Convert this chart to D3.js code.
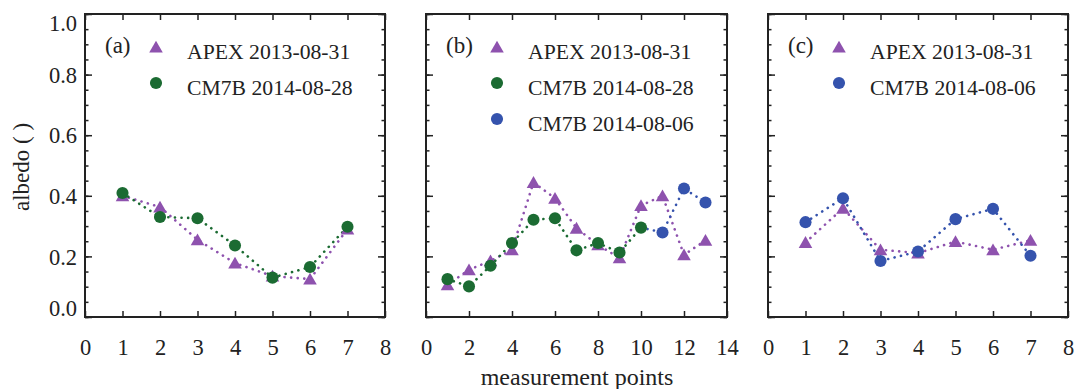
<!DOCTYPE html>
<html>
<head>
<meta charset="utf-8">
<script src="https://cdn.jsdelivr.net/npm/d3@7"></script>
<style>
  body { margin: 0; background: #fff; }
  text { font-family: "Liberation Serif", "Times New Roman", serif; fill: #222; }
  .axis path { display: none; }
  .axis line { stroke: #222; stroke-width: 1.5; }
</style>
</head>
<body>
<div class="chart"></div>
<script>
// panel (a)
var aPoints = [1, 2, 3, 4, 5, 6, 7];
var aApex = [0.40, 0.363, 0.255, 0.178, 0.135, 0.125, 0.29];
var aCm7b0828 = [0.409, 0.33, 0.326, 0.236, 0.13, 0.165, 0.298];

// panel (b)
var bPoints = [1, 2, 3, 4, 5, 6, 7, 8, 9, 10, 11, 12, 13];
var bApex = [0.106, 0.156, 0.185, 0.222, 0.444, 0.392, 0.293, 0.238, 0.195, 0.368, 0.40, 0.205, 0.253];
var bCm7b0828Points = [1, 2, 3, 4, 5, 6, 7, 8, 9, 10];
var bCm7b0828 = [0.125, 0.101, 0.169, 0.244, 0.321, 0.326, 0.22, 0.244, 0.213, 0.295];
var bCm7b0806Points = [11, 12, 13];
var bCm7b0806 = [0.279, 0.424, 0.378];

// panel (c)
var cPoints = [1, 2, 3, 4, 5, 6, 7];
var cApex = [0.246, 0.359, 0.222, 0.211, 0.249, 0.222, 0.253];
var cCm7b0806 = [0.313, 0.392, 0.185, 0.216, 0.323, 0.357, 0.202];

var yTicks = [0, 0.2, 0.4, 0.6, 0.8, 1.0];
var yMinor = d3.range(0, 1.0001, 0.05);
var aXTicks = [0, 1, 2, 3, 4, 5, 6, 7, 8];
var bXTicks = [0, 2, 4, 6, 8, 10, 12, 14];
var cXTicks = [0, 1, 2, 3, 4, 5, 6, 7, 8];

var purple = '#8e52ae', green = '#1b6b32', blue = '#3553ad';
var apexLabel = 'APEX 2013-08-31';
var label0828 = 'CM7B 2014-08-28';
var label0806 = 'CM7B 2014-08-06';

var zip = (xs, ys) => xs.map((x, i) => ({ x: x, y: ys[i] }));

var panels = [
  {
    tag: '(a)', left: 85, right: 385, xmax: 8, xticks: aXTicks, ylabels: true,
    series: [
      { name: apexLabel, color: purple, shape: 'tri', pts: zip(aPoints, aApex) },
      { name: label0828, color: green, shape: 'dot', pts: zip(aPoints, aCm7b0828) }
    ]
  },
  {
    tag: '(b)', left: 426, right: 727, xmax: 14, xticks: bXTicks, ylabels: false,
    series: [
      { name: apexLabel, color: purple, shape: 'tri', pts: zip(bPoints, bApex) },
      { name: label0828, color: green, shape: 'dot', pts: zip(bCm7b0828Points, bCm7b0828) },
      // the 08-06 dotted line picks up from the last 08-28 point
      { name: label0806, color: blue, shape: 'dot', pts: zip(bCm7b0806Points, bCm7b0806),
        lead: { x: bCm7b0828Points[bCm7b0828Points.length - 1], y: bCm7b0828[bCm7b0828.length - 1] } }
    ]
  },
  {
    tag: '(c)', left: 768, right: 1068, xmax: 8, xticks: cXTicks, ylabels: false,
    series: [
      { name: apexLabel, color: purple, shape: 'tri', pts: zip(cPoints, cApex) },
      { name: label0806, color: blue, shape: 'dot', pts: zip(cPoints, cCm7b0806) }
    ]
  }
];

var plotTop = 14, plotBottom = 317;
var svg = d3.select('.chart').append('svg')
  .attr('width', 1076)
  .attr('height', 389);

var yScale = d3.scaleLinear().domain([0, 1]).range([plotBottom, plotTop]);
var tri = d3.symbol().type(d3.symbolTriangle).size(80);
var dot = d3.symbol().type(d3.symbolCircle).size(115);

panels.forEach(p => {
  var xScale = d3.scaleLinear().domain([0, p.xmax]).range([p.left, p.right]);
  var g = svg.append('g');

  // bottom axis with labels, top mirrored ticks
  g.append('g').attr('class', 'axis')
    .attr('transform', `translate(0, ${plotBottom})`)
    .call(d3.axisBottom(xScale).tickValues(p.xticks).tickSizeInner(-6).tickSizeOuter(0).tickPadding(22))
    .selectAll('text').style('font-size', '22.5px').attr('fill', '#222');
  g.append('g').attr('class', 'axis')
    .attr('transform', `translate(0, ${plotTop})`)
    .call(d3.axisTop(xScale).tickValues(p.xticks).tickSizeInner(-6).tickSizeOuter(0).tickFormat(''));

  // left and right y axes, major and minor ticks
  var yl = g.append('g').attr('class', 'axis')
    .attr('transform', `translate(${p.left}, 0)`)
    .call(d3.axisLeft(yScale).tickValues(yTicks).tickSizeInner(-7).tickSizeOuter(0).tickPadding(8)
      .tickFormat(p.ylabels ? d3.format('.1f') : ''));
  yl.selectAll('text').style('font-size', '22.5px').attr('fill', '#222')
    .attr('dy', (d) => d === 0 ? '-0.05em' : d === 1 ? '0.72em' : '0.34em');
  g.append('g').attr('class', 'axis')
    .attr('transform', `translate(${p.left}, 0)`)
    .call(d3.axisLeft(yScale).tickValues(yMinor).tickSizeInner(-3.5).tickSizeOuter(0).tickFormat(''));
  g.append('g').attr('class', 'axis')
    .attr('transform', `translate(${p.right}, 0)`)
    .call(d3.axisRight(yScale).tickValues(yTicks).tickSizeInner(-7).tickSizeOuter(0).tickFormat(''));
  g.append('g').attr('class', 'axis')
    .attr('transform', `translate(${p.right}, 0)`)
    .call(d3.axisRight(yScale).tickValues(yMinor).tickSizeInner(-3.5).tickSizeOuter(0).tickFormat(''));

  // frame
  g.append('rect')
    .attr('x', p.left).attr('y', plotTop)
    .attr('width', p.right - p.left).attr('height', plotBottom - plotTop)
    .style('fill', 'none').style('stroke', '#222').style('stroke-width', 2);

  var line = d3.line().x(d => xScale(d.x)).y(d => yScale(d.y));

  p.series.forEach(s => {
    var linePts = s.lead ? [s.lead].concat(s.pts) : s.pts;
    g.append('path')
      .attr('d', line(linePts))
      .style('fill', 'none')
      .style('stroke', s.color)
      .style('stroke-width', 2.6)
      .style('stroke-linecap', 'round')
      .style('stroke-dasharray', '0.1 6.5');
  });

  p.series.forEach(s => {
    g.selectAll(null)
      .data(s.pts)
      .enter()
      .append('path')
      .attr('d', s.shape === 'tri' ? tri : dot)
      .attr('transform', d => `translate(${xScale(d.x)}, ${yScale(d.y) + (s.shape === 'tri' ? 1.5 : 0)})`)
      .style('fill', s.color);
  });

  // legend
  g.append('text')
    .attr('x', p.left + 20).attr('y', 53)
    .style('font-size', '23px')
    .text(p.tag);
  p.series.forEach((s, i) => {
    var ly = 47 + i * 36;
    g.append('path')
      .attr('d', s.shape === 'tri' ? tri : dot)
      .attr('transform', `translate(${p.left + 71}, ${ly + (s.shape === 'tri' ? 1.5 : 0)})`)
      .style('fill', s.color);
    g.append('text')
      .attr('x', p.left + 102).attr('y', ly + 12)
      .style('font-size', '21.7px')
      .text(s.name);
  });
});

// axis titles
svg.append('text')
  .attr('transform', 'translate(29, 167) rotate(-90)')
  .style('text-anchor', 'middle')
  .style('font-size', '23px')
  .text('albedo ( )');

svg.append('text')
  .attr('x', 577).attr('y', 385)
  .style('text-anchor', 'middle')
  .style('font-size', '24px')
  .text('measurement points');
</script>
</body>
</html>
